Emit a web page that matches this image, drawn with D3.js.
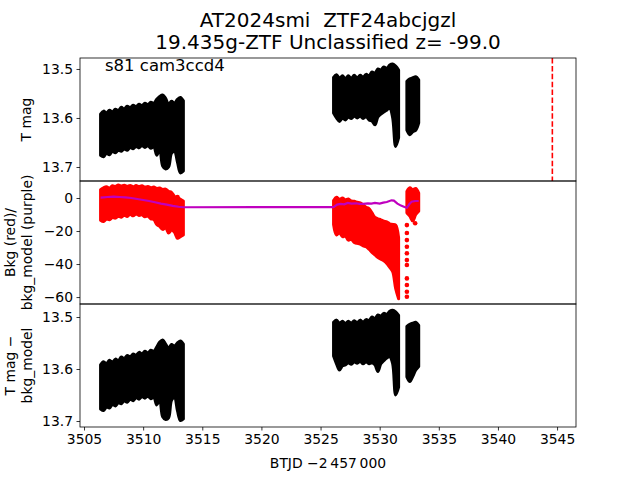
<!DOCTYPE html>
<html><head><meta charset="utf-8">
<script src="https://cdn.jsdelivr.net/npm/d3@7"></script>
<style>body{margin:0;background:#fff}text{font-family:"DejaVu Sans",sans-serif;white-space:pre}</style>
</head><body><svg id="c" width="640" height="480"></svg>
<script>
// ---------- data ----------
const titleLines = ["AT2024smi  ZTF24abcjgzl", "19.435g-ZTF Unclassified z= -99.0"];
const sectorLabel = "s81 cam3ccd4";
const xTicks = [3505, 3510, 3515, 3520, 3525, 3530, 3535, 3540, 3545];
const magTicks = [13.5, 13.6, 13.7];
const bkgTicks = [0, -20, -40, -60];
const eventTime = 3544.6;

const daysA = [3506.40,3506.65,3506.90,3507.15,3507.40,3507.65,3507.90,3508.15,3508.40,3508.65,3508.90,3509.15,3509.40,3509.65,3509.90,3510.15,3510.40,3510.65,3510.90,3511.15,3511.40,3511.65,3511.90,3512.15,3512.40,3512.65,3512.90,3513.15,3513.40];
const daysB = [3526.10,3526.35,3526.60,3526.85,3527.10,3527.35,3527.60,3527.85,3528.10,3528.35,3528.60,3528.85,3529.10,3529.35,3529.60,3529.85,3530.10,3530.35,3530.60,3530.85,3531.10,3531.35,3531.60];
const daysC = [3532.30,3532.55,3532.80,3533.05,3533.30];

// T mag envelope (panel 1)
const tmagTopA = [13.592,13.586,13.590,13.584,13.588,13.582,13.585,13.578,13.582,13.576,13.579,13.574,13.577,13.572,13.575,13.570,13.573,13.568,13.570,13.562,13.556,13.553,13.560,13.572,13.566,13.570,13.562,13.558,13.565];
const tmagBotA = [13.676,13.679,13.672,13.675,13.668,13.671,13.666,13.668,13.663,13.666,13.660,13.663,13.658,13.661,13.656,13.660,13.656,13.662,13.658,13.676,13.664,13.698,13.704,13.700,13.672,13.668,13.690,13.712,13.708];
const tmagTopB = [13.517,13.512,13.519,13.514,13.520,13.514,13.519,13.513,13.518,13.513,13.517,13.511,13.514,13.506,13.509,13.500,13.502,13.496,13.499,13.492,13.490,13.494,13.502];
const tmagBotB = [13.590,13.600,13.607,13.600,13.604,13.598,13.601,13.596,13.600,13.596,13.601,13.597,13.604,13.606,13.614,13.598,13.592,13.588,13.584,13.580,13.600,13.658,13.640];
const tmagTopC = [13.525,13.520,13.518,13.516,13.522];
const tmagBotC = [13.625,13.634,13.628,13.625,13.610];

// Bkg envelope (panel 2, red)
const bkgTopA = [5.0,6.2,6.8,6.0,7.4,7.0,7.9,7.2,7.8,7.0,7.6,6.8,7.5,7.0,7.4,6.6,7.0,6.2,6.6,5.8,6.0,5.2,5.4,4.0,3.4,1.0,0.4,-0.8,-1.8];
const bkgBotA = [-13.5,-14.3,-12.8,-13.2,-11.8,-12.2,-11.0,-11.6,-10.4,-11.2,-9.8,-10.8,-9.6,-10.6,-10.2,-11.4,-11.0,-12.6,-13.0,-16.0,-17.2,-19.0,-18.0,-21.2,-19.4,-20.8,-24.4,-23.4,-22.4];
const bkgTopB = [-1.5,0.4,-0.8,0.0,-1.0,-0.6,-1.8,-2.0,-2.6,-3.0,-4.2,-5.6,-6.4,-9.0,-11.8,-12.6,-13.2,-14.0,-14.4,-15.6,-16.0,-16.4,-24.0];
const bkgBotB = [-16,-22.4,-21.0,-23.4,-23.0,-25.5,-25.0,-27.0,-27.5,-28.0,-29.0,-29.5,-31.0,-33.0,-34.5,-36.0,-37.0,-38.0,-39.6,-42.0,-44.6,-54.7,-61.0];
const bkgTopC = [4.0,6.2,5.0,5.8,3.0];
const bkgBotC = [-9.0,-11.0,-14.0,-10.0,-8.0];
const bkgLooseDays = [3532.3,3532.3,3532.3,3532.3,3532.3,3532.3,3532.3,3532.3,3532.3,3532.3,3532.3,3533.0,3512.9];
const bkgLooseVals = [-16.4,-21.2,-25.5,-29.5,-33.5,-37.6,-40.6,-48.7,-52.7,-56.8,-59.8,-15.3,0.6];

// bkg_model (panel 2, purple)
const modelDays = [3506.4,3507.0,3507.5,3508.0,3508.5,3509.0,3509.5,3510.0,3510.5,3511.0,3511.5,3512.0,3512.5,3513.0,3513.4,3526.1,3526.4,3526.7,3527.0,3527.3,3527.6,3528.0,3528.3,3528.6,3529.0,3529.3,3529.6,3530.0,3530.3,3530.6,3531.0,3531.2,3531.5,3531.8,3532.1,3532.3,3532.5,3532.7,3533.0,3533.3];
const modelVals = [0.2,0.6,0.8,0.6,0.4,0.0,-0.6,-1.2,-1.8,-2.6,-3.4,-4.0,-4.8,-5.3,-5.6,-5.5,-4.0,-3.6,-3.8,-3.0,-3.4,-3.2,-3.6,-3.6,-3.2,-3.4,-3.0,-3.4,-2.8,-2.4,-1.4,-1.6,-3.4,-4.6,-5.4,-5.9,-3.8,-2.2,-1.8,-1.8];

// T mag - bkg_model envelope (panel 3)
const corrTopA = [13.592,13.586,13.590,13.583,13.587,13.581,13.584,13.577,13.580,13.574,13.577,13.571,13.574,13.568,13.571,13.566,13.569,13.564,13.566,13.558,13.548,13.544,13.552,13.560,13.553,13.556,13.550,13.546,13.552];
const corrBotA = [13.677,13.680,13.673,13.675,13.668,13.671,13.665,13.667,13.661,13.664,13.658,13.661,13.655,13.658,13.653,13.656,13.652,13.657,13.654,13.669,13.660,13.692,13.697,13.694,13.660,13.655,13.680,13.699,13.696];
const corrTopB = [13.510,13.506,13.512,13.508,13.513,13.508,13.512,13.507,13.511,13.506,13.510,13.505,13.507,13.500,13.503,13.496,13.498,13.493,13.495,13.489,13.487,13.490,13.497];
const corrBotB = [13.575,13.590,13.602,13.594,13.592,13.588,13.591,13.586,13.589,13.585,13.590,13.586,13.590,13.588,13.592,13.605,13.590,13.584,13.579,13.576,13.590,13.650,13.635];
const corrTopC = [13.518,13.514,13.512,13.510,13.516];
const corrBotC = [13.615,13.624,13.614,13.602,13.595];

// ---------- drawing ----------
const svg = d3.select("#c");
const L = 80, R = 576;
const panels = [[58,181],[181,304],[304,427]];
const x = d3.scaleLinear().domain([3504.66, 3546.6]).range([L, R]);
const y1 = d3.scaleLinear().domain([13.4776, 13.7286]).range(panels[0]);
const y2 = d3.scaleLinear().domain([10.3, -64.2]).range(panels[1]);
const y3 = d3.scaleLinear().domain([13.475, 13.7115]).range(panels[2]);

function band(g, days, top, bot, y, color){
  const rows = days.map((d,i)=>({d, t:top[i], b:bot[i]}));
  const area = d3.area().curve(d3.curveCatmullRom.alpha(0.5))
    .x(r=>x(r.d)).y0(r=>y(r.b)).y1(r=>y(r.t));
  g.append("path").datum(rows).attr("d", area)
    .attr("fill", color).attr("stroke", color).attr("stroke-width", 3)
    .attr("stroke-linejoin","round");
}

panels.forEach((p,i)=>{
  svg.append("clipPath").attr("id","clip"+i).append("rect")
    .attr("x",L).attr("y",p[0]).attr("width",R-L).attr("height",p[1]-p[0]);
});
const g1 = svg.append("g").attr("clip-path","url(#clip0)");
const g2 = svg.append("g").attr("clip-path","url(#clip1)");
const g3 = svg.append("g").attr("clip-path","url(#clip2)");

band(g1, daysA, tmagTopA, tmagBotA, y1, "#000");
band(g1, daysB, tmagTopB, tmagBotB, y1, "#000");
band(g1, daysC, tmagTopC, tmagBotC, y1, "#000");
g1.append("line").attr("x1",x(eventTime)).attr("x2",x(eventTime))
  .attr("y1",panels[0][0]).attr("y2",panels[0][1])
  .attr("stroke","#ff0000").attr("stroke-width",1.6).attr("stroke-dasharray","5.5,2.4");

band(g2, daysA, bkgTopA, bkgBotA, y2, "#ff0000");
band(g2, daysB, bkgTopB, bkgBotB, y2, "#ff0000");
band(g2, daysC, bkgTopC, bkgBotC, y2, "#ff0000");
g2.selectAll("circle.loose").data(bkgLooseDays.map((d,i)=>[d,bkgLooseVals[i]])).enter()
  .append("circle").attr("cx",d=>x(d[0])).attr("cy",d=>y2(d[1])).attr("r",2.3).attr("fill","#ff0000");
g2.append("path").datum(modelDays.map((d,i)=>[d,modelVals[i]]))
  .attr("d", d3.line().x(d=>x(d[0])).y(d=>y2(d[1])))
  .attr("fill","none").attr("stroke","#bf00bf").attr("stroke-width",2.2);

band(g3, daysA, corrTopA, corrBotA, y3, "#000");
band(g3, daysB, corrTopB, corrBotB, y3, "#000");
band(g3, daysC, corrTopC, corrBotC, y3, "#000");

// axes
const fmt2 = d3.format(".1f");
function yAxis(scale, ticks, f){
  const g = svg.append("g").attr("transform",`translate(${L},0)`)
    .call(d3.axisLeft(scale).tickValues(ticks).tickSize(3.5).tickPadding(3.5).tickFormat(f));
  g.select(".domain").remove();
  g.selectAll("line").attr("stroke","#000").attr("stroke-width",0.8);
  g.selectAll("text").attr("font-size","13.9px").attr("font-family","DejaVu Sans").attr("fill","#000");
}
yAxis(y1, magTicks, fmt2);
yAxis(y2, bkgTicks, d3.format("d"));
yAxis(y3, magTicks, fmt2);
const gx = svg.append("g").attr("transform",`translate(0,${panels[2][1]})`)
  .call(d3.axisBottom(x).tickValues(xTicks).tickSize(3.5).tickPadding(3.5).tickFormat(d3.format("d")));
gx.select(".domain").remove();
gx.selectAll("line").attr("stroke","#000").attr("stroke-width",0.8);
gx.selectAll("text").attr("font-size","13.9px").attr("font-family","DejaVu Sans").attr("fill","#000");

panels.forEach(p=>{
  svg.append("rect").attr("x",L).attr("y",p[0]).attr("width",R-L).attr("height",p[1]-p[0])
    .attr("fill","none").attr("stroke","#000").attr("stroke-width",0.8);
});

// texts
svg.append("text").attr("x",(L+R)/2).attr("y",27).attr("text-anchor","middle").attr("font-size","20px").attr("xml:space","preserve").text(titleLines[0]);
svg.append("text").attr("x",(L+R)/2).attr("y",49).attr("text-anchor","middle").attr("font-size","20px").text(titleLines[1]);
svg.append("text").attr("x",105).attr("y",71).attr("font-size","16.5px").text(sectorLabel);
svg.append("text").attr("x",(L+R)/2).attr("y",468).attr("text-anchor","middle").attr("font-size","13.9px").text("BTJD \u22122\u2009457\u2009000");

function ylab(lines, cy){
  const xs = lines.length===1 ? [31] : [15, 32];
  lines.forEach((t,i)=>{
    svg.append("text").attr("transform",`translate(${xs[i]},${cy}) rotate(-90)`)
      .attr("text-anchor","middle").attr("font-size","13.9px").text(t);
  });
}
ylab(["T mag"], (panels[0][0]+panels[0][1])/2);
ylab(["Bkg (red)/","bkg_model (purple)"], (panels[1][0]+panels[1][1])/2);
ylab(["T mag \u2212","bkg_model"], (panels[2][0]+panels[2][1])/2);
</script></body></html>
